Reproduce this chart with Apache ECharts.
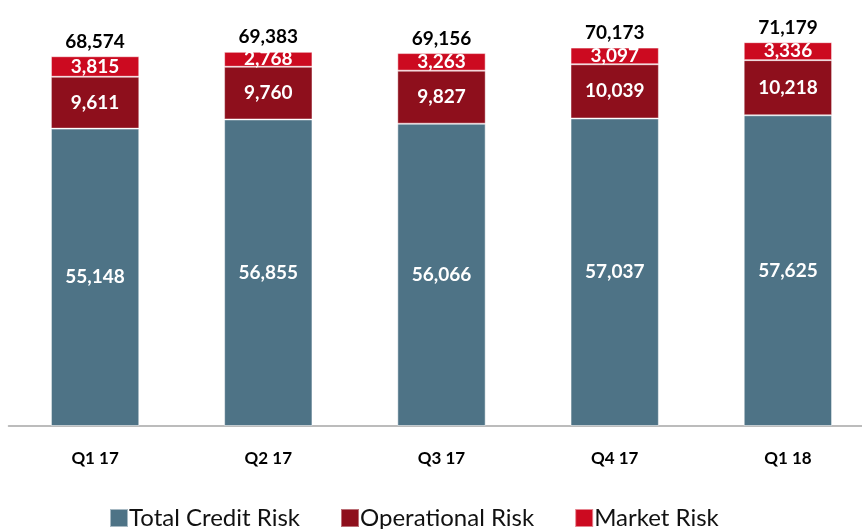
<!DOCTYPE html>
<html style="height: 100%">
<head>
<meta charset="utf-8">
<script src="https://cdn.jsdelivr.net/npm/echarts@6/dist/echarts.min.js"></script>
</head>
<body style="height: 100%; margin: 0">
<div id="container" style="width: 862px; height: 529px"></div>
<script type="text/javascript">
var quarters = ['Q1 17', 'Q2 17', 'Q3 17', 'Q4 17', 'Q1 18'];
var creditRisk = [55148, 56855, 56066, 57037, 57625];
var operationalRisk = [9611, 9760, 9827, 10039, 10218];
var marketRisk = [3815, 2768, 3263, 3097, 3336];

var totals = quarters.map(function (q, i) {
    return creditRisk[i] + operationalRisk[i] + marketRisk[i];
});

var font = 'Lato';
function fmt(v) {
    return v.toLocaleString('en-US');
}

var dom = document.getElementById('container');
var myChart = echarts.init(dom);

var insideLabel = {
    show: true,
    position: 'inside',
    color: '#fff',
    fontFamily: font,
    fontWeight: 'bold',
    fontSize: 19,
    formatter: function (p) { return fmt(p.value); }
};

var option = {
    animation: false,
    textStyle: { fontFamily: font },
    grid: { left: 8.5, width: 866, top: 0, bottom: 103, outerBoundsMode: 'none', containLabel: false },
    legend: {
        data: ['Total Credit Risk', 'Operational Risk', 'Market Risk'],
        bottom: -6,
        left: 104,
        itemWidth: 18,
        itemHeight: 18,
        itemGap: 40,
        icon: 'rect',
        textStyle: { fontFamily: font, fontSize: 24, color: '#111', padding: [0, 0, 0, -4] }
    },
    xAxis: {
        type: 'category',
        data: quarters,
        axisLine: { lineStyle: { color: '#a6a6a6', width: 1.5 } },
        axisTick: { show: false },
        axisLabel: { color: '#000', fontWeight: 'bold', fontSize: 17, fontFamily: font, margin: 24 }
    },
    yAxis: {
        type: 'value',
        min: 0,
        max: 79000,
        show: false
    },
    series: [{
        name: 'Total Credit Risk',
        type: 'bar',
        stack: 'rwa',
        barWidth: '51%',
        itemStyle: { color: '#4e7386', borderColor: 'rgba(255,255,255,0.5)', borderWidth: 1 },
        label: insideLabel,
        data: creditRisk
    }, {
        name: 'Operational Risk',
        type: 'bar',
        stack: 'rwa',
        itemStyle: { color: '#8e0f1c', borderColor: 'rgba(255,255,255,0.4)', borderWidth: 1 },
        label: insideLabel,
        data: operationalRisk
    }, {
        name: 'Market Risk',
        type: 'bar',
        stack: 'rwa',
        itemStyle: { color: '#cc0a20', borderColor: 'rgba(255,255,255,0.5)', borderWidth: 1 },
        label: insideLabel,
        data: marketRisk
    }, {
        name: 'Total',
        type: 'bar',
        stack: 'rwa',
        itemStyle: { color: 'transparent' },
        label: {
            show: true,
            position: 'top',
            distance: 5,
            color: '#000',
            fontFamily: font,
            fontWeight: 'bold',
            fontSize: 19,
            formatter: function (p) { return fmt(totals[p.dataIndex]); }
        },
        data: quarters.map(function () { return 0; })
    }]
};

myChart.setOption(option);
</script>
</body>
</html>
